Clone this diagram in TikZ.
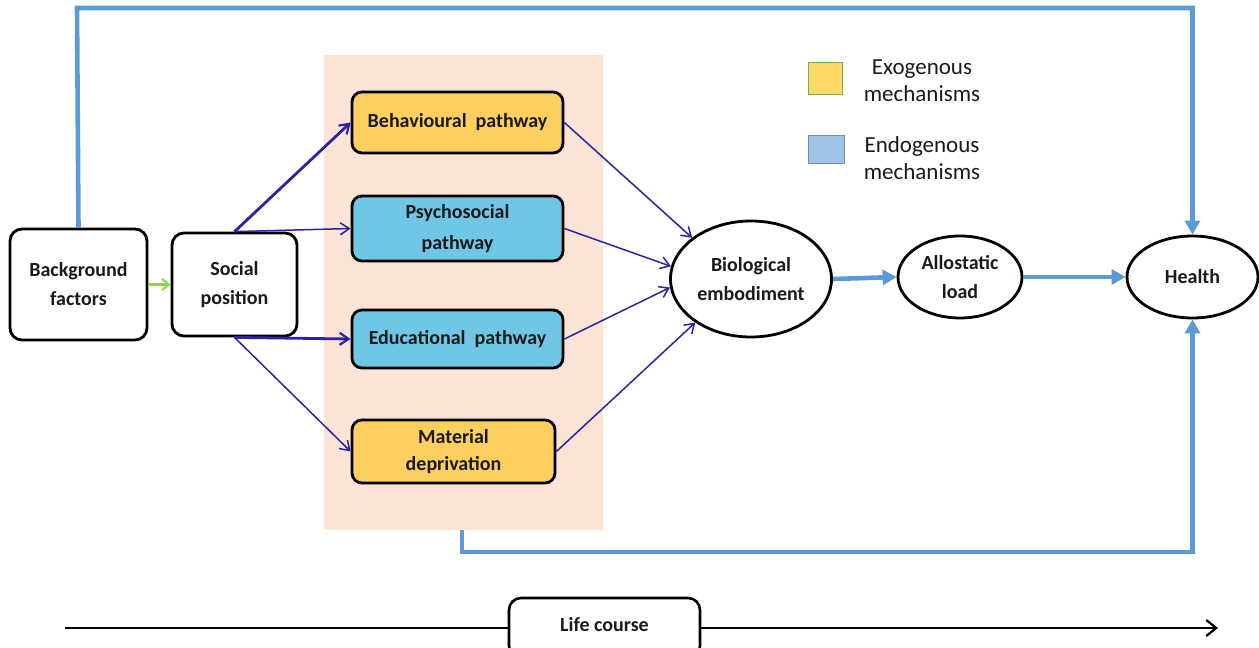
\documentclass[tikz,border=0pt]{standalone}
\usepackage{fontspec}
\setmainfont{Carlito}
\usetikzlibrary{arrows.meta,shapes.geometric}

\definecolor{peach}{HTML}{FBE4D5}
\definecolor{exo}{HTML}{FCCF5E}
\definecolor{endo}{HTML}{70C6E5}
\definecolor{legexo}{HTML}{FFD966}
\definecolor{legexoline}{HTML}{70AD47}
\definecolor{legendo}{HTML}{9DC3E6}
\definecolor{legendoline}{HTML}{7F8C99}
\definecolor{flow}{HTML}{5B9BD5}
\definecolor{path}{HTML}{2B22A6}
\definecolor{lead}{HTML}{92D050}
\definecolor{ink}{HTML}{1A1A1A}

\begin{document}
\begin{tikzpicture}[x=1pt,y=-1pt,
  boxtext/.style={font=\bfseries\fontsize{20}{29}\selectfont, text=ink, align=center},
  stage/.style={boxtext, draw=black, line width=2.8pt, rounded corners=12pt,
    inner sep=0pt, fill=white},
  pathbox/.style={stage, rounded corners=10pt},
  oval/.style={boxtext, ellipse, draw=black, line width=2.8pt, inner sep=0pt, fill=white},
  legendtext/.style={font=\fontsize{23}{27}\selectfont, text=ink, align=center},
  thickpath/.style={draw=path, line width=2.8pt, -{Straight Barb[length=9pt,width=12pt,line width=2.2pt]}},
  thinpath/.style={draw=path, line width=1.5pt, -{Straight Barb[length=9pt,width=12pt,line width=1.5pt]}},
  flowline/.style={draw=flow, line width=4.6pt},
  flowarrow/.style={flowline, -{Triangle[length=14pt,width=15pt]}}
]
\useasboundingbox (0,0) rectangle (1259,648);

% shaded panel behind the four pathways
\node[fill=peach, inner sep=0pt, minimum width=279pt, minimum height=475pt] (panel) at (463.5,292.5) {};

% legend
\node[draw=legexoline, fill=legexo, line width=1pt, inner sep=0pt, minimum width=34pt, minimum height=32pt] (legA) at (825,78) {};
\node[legendtext] (legAt) at (922,81) {Exogenous\\mechanisms};
\node[draw=legendoline, fill=legendo, line width=1pt, inner sep=0pt, minimum width=36pt, minimum height=28pt] (legB) at (826,149) {};
\node[legendtext] (legBt) at (922,158) {Endogenous\\mechanisms};

% stages
\node[stage, minimum width=137pt, minimum height=111pt] (bg) at (78.5,284.5) {Background\\factors};
\node[stage, minimum width=125pt, minimum height=103pt] (sp) at (234.5,284.5) {Social\\position};

\node[pathbox, fill=exo, minimum width=211pt, minimum height=61pt] (beh) at (457.5,122.5) {Behavioural\ \ pathway};
\node[pathbox, fill=endo, minimum width=211pt, minimum height=65pt, font=\bfseries\fontsize{20}{31}\selectfont] (psy) at (457.5,228.5) {Psychosocial\\pathway};
\node[pathbox, fill=endo, minimum width=211pt, minimum height=58pt] (edu) at (457.5,339) {Educational\ \ pathway};
\node[pathbox, fill=exo, minimum width=203pt, minimum height=63pt, font=\bfseries\fontsize{20}{27}\selectfont] (mat) at (453.5,451.5) {Material\\deprivation};

\node[oval, minimum width=161pt, minimum height=116pt] (bio) at (751,279) {Biological\\embodiment};
\node[oval, minimum width=124pt, minimum height=82pt] (allo) at (960,277) {Allostatic\\load};
\node[oval, minimum width=131pt, minimum height=82pt] (health) at (1192.5,277) {Health};

% life-course axis
\coordinate (lcs) at (65,628);
\coordinate (lce) at (1218,628);
\node[stage, line width=2.6pt, minimum width=191pt, minimum height=60pt] (life) at (604.5,628) {};
\node[boxtext] (lifet) at (604.5,625) {Life course};
\draw[line width=2.8pt] (lcs) -- (life.west);
\draw[line width=2.8pt, -{Straight Barb[length=10pt,width=16pt,line width=2.2pt]}] (life.east) -- (lce);

% background to social position
\draw[draw=lead, line width=2.2pt, -{Straight Barb[length=7pt,width=11pt,line width=2pt]}] (bg.east) -- (sp.west);

% social position to the pathways
\draw[thickpath] (sp.north) -- (beh.west);
\draw[thinpath] (sp.north) -- (psy.west);
\draw[thickpath] (sp.south) -- (edu.west);
\draw[thinpath] (sp.south) -- (mat.west);

% pathways to biological embodiment
\draw[thinpath] (beh.east) -- (bio.145);
\draw[thinpath] (psy.east) -- (bio.171);
\draw[thinpath] (edu.east) -- (bio.186);
\draw[thinpath] (mat.east) -- (bio.218);

% embodiment chain
\draw[flowarrow] (bio.east) -- (allo.west);
\draw[flowarrow] (allo.east) -- (health.west);

% direct routes to health
\coordinate (topA) at (77,8);
\coordinate (topB) at (1192.5,8);
\draw[flowarrow] (bg.north) -- (topA) -- (topB) -- (health.north);
\coordinate (fb) at (462,530);
\coordinate (fbA) at (462,552);
\coordinate (fbB) at (1192.5,552);
\draw[flowarrow] (fb) -- (fbA) -- (fbB) -- (health.south);
\end{tikzpicture}
\end{document}
